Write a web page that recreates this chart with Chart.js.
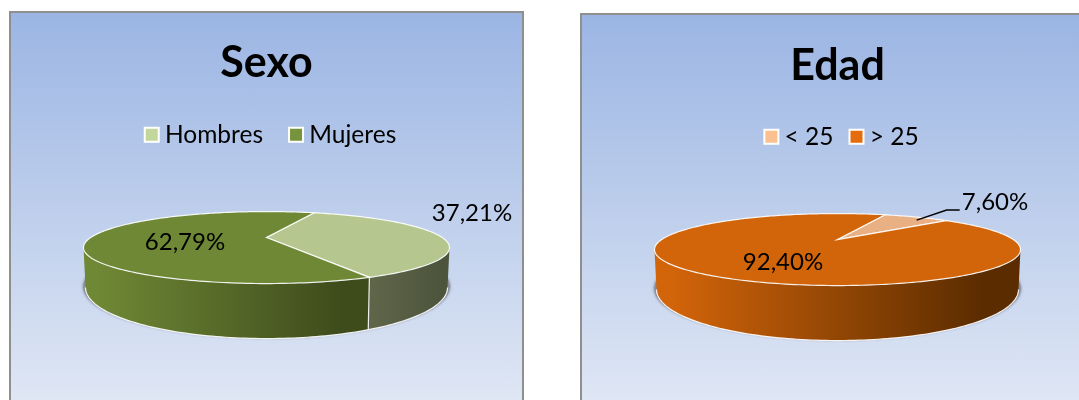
<!DOCTYPE html>
<html>
<head>
<meta charset="utf-8">
<title>Sexo y Edad</title>
<script src="https://cdn.jsdelivr.net/npm/chart.js@4"></script>
<style>
  html, body { margin: 0; padding: 0; width: 1079px; height: 400px; overflow: hidden; background: #fff; }
  .panel {
    position: absolute;
    width: 511px;
    height: 420px;
    border: 2px solid #8f8f8f;
    background: linear-gradient(to bottom, #9bb5e3 0%, #e1e8f5 95%);
  }
  #panel-sexo { left: 9px; top: 11px; }
  #panel-edad { left: 580px; top: 13px; }
  canvas { display: block; }
</style>
</head>
<body>
<div class="panel" id="panel-sexo"><canvas id="sexo-chart" width="511" height="420"></canvas></div>
<div class="panel" id="panel-edad"><canvas id="edad-chart" width="511" height="420"></canvas></div>
<script>
//Data
const sexoLabels = ["Hombres", "Mujeres"];
const sexoValues = [37.21, 62.79];
const edadLabels = ["< 25", "> 25"];
const edadValues = [7.60, 92.40];

//Fake 3D: the pie circle goes through a perspective map, apex stays on arc.x/arc.y
const perspective = -0.278;
const topFace = { rx: 183, ry: 36, dy: 10 };
const bottomFace = { rx: 181, ry: 51, dy: 50 };
const shadowFace = { rx: 183, ry: 51, dy: 49 };

//The side of the pie is only seen between the two points where the outline turns
const frontStart = Math.asin(-perspective);
const frontEnd = Math.PI - frontStart;

const project = (arc, angle, face) => {
  const u = Math.cos(angle);
  const v = Math.sin(angle);
  const w = 1 + perspective * v;
  const d = face.rx * Math.sqrt(1 - perspective * perspective);
  return {
    x: arc.x + d * u / w,
    y: arc.y + face.dy + (face.ry * v + perspective * face.ry) / w
  };
};

const sampleArc = (arc, start, end, face) => {
  const pts = [];
  const steps = Math.max(2, Math.ceil(Math.abs(end - start) / 0.02));
  for (let i = 0; i <= steps; i++) {
    pts.push(project(arc, start + (end - start) * i / steps, face));
  }
  return pts;
};

const tracePts = (ctx, pts, move) => {
  pts.forEach((p, i) => {
    if (i === 0 && move) ctx.moveTo(p.x, p.y);
    else ctx.lineTo(p.x, p.y);
  });
};

const percent = (value) => value.toFixed(2).replace('.', ',') + '%';

const pie3d = {
  id: 'pie3d',
  //Legend box centres on the whole canvas, nudge it to where the picture has it
  afterLayout(chart, args, opts) {
    chart.legend.left += opts.legendShift;
    chart.legend.right += opts.legendShift;
  },
  beforeDatasetsDraw(chart, args, opts) {
    const ctx = chart.ctx;
    const arcs = chart.getDatasetMeta(0).data;
    const values = chart.data.datasets[0].data;
    const first = arcs[0];

    //Soft shadow under the pie
    ctx.save();
    ctx.beginPath();
    tracePts(ctx, sampleArc(first, 0, Math.PI * 2, shadowFace), true);
    ctx.closePath();
    ctx.shadowColor = 'rgba(60, 60, 70, .8)';
    ctx.shadowBlur = 3;
    ctx.fillStyle = '#8a8f98';
    ctx.fill();
    ctx.restore();

    //Walls
    arcs.forEach((arc, i) => {
      const start = Math.max(arc.startAngle, frontStart);
      const end = Math.min(arc.endAngle, frontEnd);
      //A slice at the back shows no wall at all
      if (end <= start) return;
      const high = sampleArc(arc, start, end, topFace);
      const low = sampleArc(arc, start, end, bottomFace);
      const xs = high.map(p => p.x);
      const grad = ctx.createLinearGradient(Math.min(...xs), 0, Math.max(...xs), 0);
      grad.addColorStop(0.05, opts.wall[i][0]);
      grad.addColorStop(0.9, opts.wall[i][1]);
      ctx.beginPath();
      tracePts(ctx, high, true);
      tracePts(ctx, low.slice().reverse(), false);
      ctx.closePath();
      ctx.fillStyle = grad;
      ctx.fill();
    });

    //White edges of the walls
    ctx.strokeStyle = 'rgba(255, 255, 255, .9)';
    ctx.lineWidth = 1.2;
    ctx.beginPath();
    tracePts(ctx, sampleArc(first, frontStart, frontEnd, bottomFace), true);
    ctx.stroke();
    arcs.forEach((arc) => {
      if (arc.startAngle > frontStart && arc.startAngle < frontEnd) {
        const a = project(arc, arc.startAngle, topFace);
        const b = project(arc, arc.startAngle, bottomFace);
        ctx.beginPath();
        ctx.moveTo(a.x, a.y);
        ctx.lineTo(b.x, b.y);
        ctx.stroke();
      }
    });

    //Top faces
    arcs.forEach((arc) => {
      ctx.beginPath();
      ctx.moveTo(arc.x, arc.y + topFace.dy + perspective * topFace.ry);
      tracePts(ctx, sampleArc(arc, arc.startAngle, arc.endAngle, topFace), false);
      ctx.closePath();
      ctx.fillStyle = arc.options.backgroundColor;
      ctx.fill();
      ctx.stroke();
    });

    //Leader line, only the small slice of Edad has one
    if (opts.leader) {
      const mid = (arcs[0].startAngle + arcs[0].endAngle) / 2;
      const start = project(arcs[0], mid, topFace);
      ctx.beginPath();
      ctx.moveTo(start.x, start.y + 3);
      ctx.lineTo(start.x + 30, start.y - 7);
      ctx.lineTo(start.x + 43, start.y - 7);
      ctx.strokeStyle = '#000';
      ctx.lineWidth = 1.5;
      ctx.stroke();
    }

    //Percent labels
    ctx.fillStyle = '#000';
    ctx.font = opts.labelFont;
    ctx.textAlign = 'center';
    ctx.textBaseline = 'middle';
    values.forEach((value, i) => {
      ctx.fillText(percent(value), opts.labelPos[i][0], opts.labelPos[i][1]);
    });
    return false;
  }
};

const makePie = (id, name, labels, values, look) => {
  return new Chart(document.getElementById(id), {
    type: 'pie',
    data: {
      labels: labels,
      datasets: [{
        data: values,
        backgroundColor: look.top,
        borderWidth: 0
      }]
    },
    options: {
      responsive: false,
      animation: false,
      rotation: 20,
      layout: {
        padding: { bottom: 115 }
      },
      plugins: {
        title: {
          display: true,
          text: name,
          color: '#000',
          font: { family: 'Lato', size: 43, weight: 'bold' },
          padding: look.titlePadding
        },
        legend: {
          position: 'top',
          labels: {
            color: '#000',
            font: { family: 'Lato', size: 24.5 },
            usePointStyle: true,
            pointStyle: 'rect',
            boxWidth: 2,
            boxHeight: 14,
            padding: look.legendGap,
            generateLabels: () => labels.map((text, i) => ({
              text: text,
              fillStyle: look.legend[i],
              strokeStyle: '#ffffff',
              lineWidth: 2,
              pointStyle: 'rect',
              index: i
            }))
          }
        },
        tooltip: { enabled: false },
        pie3d: {
          wall: look.wall,
          labelPos: look.labelPos,
          leader: look.leader,
          legendShift: look.legendShift,
          labelFont: '24px Lato'
        }
      }
    },
    plugins: [pie3d]
  });
};

let sexoChart = makePie('sexo-chart', 'Sexo', sexoLabels, sexoValues, {
  legend: ['#c3d69b', '#77933c'],
  top: ['#b5c78f', '#6f8835'],
  wall: [['#5f6549', '#4c543c'], ['#6f8835', '#3e4c1c']],
  labelPos: [[461, 200], [174, 229]],
  titlePadding: { top: 24, bottom: 2 },
  legendGap: 32,
  legendShift: 7,
  leader: false
});

let edadChart = makePie('edad-chart', 'Edad', edadLabels, edadValues, {
  legend: ['#fac090', '#e46c0a'],
  top: ['#e8b083', '#d2640a'],
  wall: [['#a88060', '#a88060'], ['#d2640a', '#5a2c00']],
  labelPos: [[413, 187], [201, 247]],
  titlePadding: { top: 25, bottom: 11 },
  legendGap: 22,
  legendShift: 7,
  leader: true
});
</script>
</body>
</html>
